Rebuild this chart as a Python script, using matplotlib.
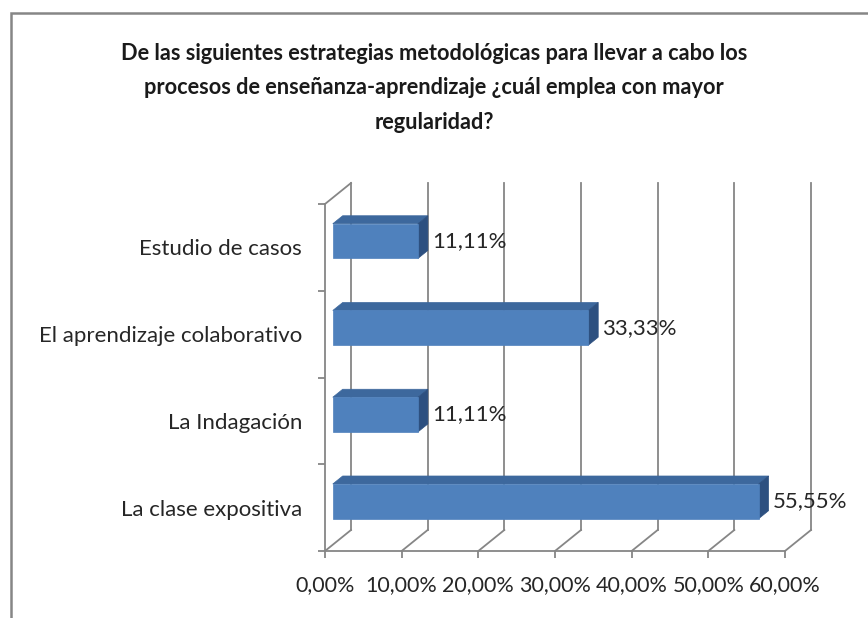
import matplotlib
matplotlib.use("Agg")
import matplotlib.pyplot as plt
from matplotlib.patches import Polygon, Rectangle
from matplotlib.ticker import FixedLocator

plt.rcParams['font.family'] = ['Lato', 'DejaVu Sans']

categories = ['La clase expositiva', 'La Indagación',
              'El aprendizaje colaborativo', 'Estudio de casos']
values = [55.55, 11.11, 33.33, 11.11]
xticks = [0, 10, 20, 30, 40, 50, 60]
title = ('De las siguientes estrategias metodológicas para llevar a cabo los\n'
         'procesos de enseñanza-aprendizaje ¿cuál emplea con mayor\n'
         'regularidad?')

grey = '#868686'
front_c = '#4f81bd'
top_c = '#3d689d'
side_c = '#2d5080'

fig = plt.figure(figsize=(8.68, 6.18), dpi=100)
fig.patches.append(Rectangle((11 / 868, -0.1), 1.2, (618 - 13) / 618 + 0.1,
                             transform=fig.transFigure, fill=False,
                             edgecolor=grey, linewidth=1.8))

ax = fig.add_axes([325 / 868, (618 - 551) / 618, 460 / 868, 347 / 618])
ax.set_xlim(0, 60)
ax.set_ylim(-0.5, len(categories) - 0.5)
ax.patch.set_visible(False)

# depth of the 3d box (pixels) -> data units
inv = ax.transData.inverted()
x0, y0 = inv.transform(ax.transData.transform((0, 0)))
x1, y1 = inv.transform(ax.transData.transform((0, 0)) + (26, 21))
WX, WY = x1 - x0, y1 - y0


def at(x, y, f):
    return (x + f * WX, y + f * WY)


ybot, ytop = -0.5, len(categories) - 0.5
line_kw = dict(color=grey, linewidth=1.3, clip_on=False, zorder=1)

# back wall gridlines and floor diagonals
for v in xticks:
    p, q = at(v, ybot, 1), at(v, ytop, 1)
    ax.plot([p[0], q[0]], [p[1], q[1]], **line_kw)
    p, q = at(v, ybot, 0), at(v, ybot, 1)
    ax.plot([p[0], q[0]], [p[1], q[1]], **line_kw)
# left wall top edge
p, q = at(0, ytop, 0), at(0, ytop, 1)
ax.plot([p[0], q[0]], [p[1], q[1]], **line_kw)

# 3d bars
f1, f2, h = 0.3, 0.68, 0.40
for i, v in enumerate(values):
    yb, yt = i - h / 2, i + h / 2
    front = [at(0, yb, f1), at(v, yb, f1), at(v, yt, f1), at(0, yt, f1)]
    top = [at(0, yt, f1), at(v, yt, f1), at(v, yt, f2), at(0, yt, f2)]
    side = [at(v, yb, f1), at(v, yb, f2), at(v, yt, f2), at(v, yt, f1)]
    for pts, c in ((top, top_c), (side, side_c), (front, front_c)):
        ax.add_patch(Polygon(pts, closed=True, facecolor=c, edgecolor=c,
                             linewidth=0.5, clip_on=False, zorder=3))
    lx, ly = at(v, i, f1)
    ax.annotate(f'{v:.2f}%'.replace('.', ','), (lx, ly), xytext=(10, 0),
                textcoords='offset points', ha='left', va='center',
                fontsize=16, color='#262626', zorder=4)

# front axes (spines)
for s in ('top', 'right'):
    ax.spines[s].set_visible(False)
for s in ('left', 'bottom'):
    ax.spines[s].set_color(grey)
    ax.spines[s].set_linewidth(1.3)

ax.set_xticks(xticks)
ax.set_xticklabels([f'{t:.2f}%'.replace('.', ',') for t in xticks])
ax.tick_params(axis='x', direction='out', length=5, width=1.3, color=grey,
               pad=12.5, labelsize=15.5, labelcolor='#262626')

ax.set_yticks(range(len(categories)))
ax.set_yticklabels(categories)
ax.yaxis.set_minor_locator(FixedLocator([k - 0.5 for k in range(len(categories) + 1)]))
ax.tick_params(axis='y', which='major', length=0, pad=16.5, labelsize=16,
               labelcolor='#262626')
ax.tick_params(axis='y', which='minor', direction='out', length=5, width=1.3,
               color=grey)

fig.text(0.5, 1 - 88 / 618, title, ha='center', va='center', fontsize=15.7,
         fontweight='bold', linespacing=1.78, color='#1a1a1a')

fig.savefig('out.png', dpi=100)
